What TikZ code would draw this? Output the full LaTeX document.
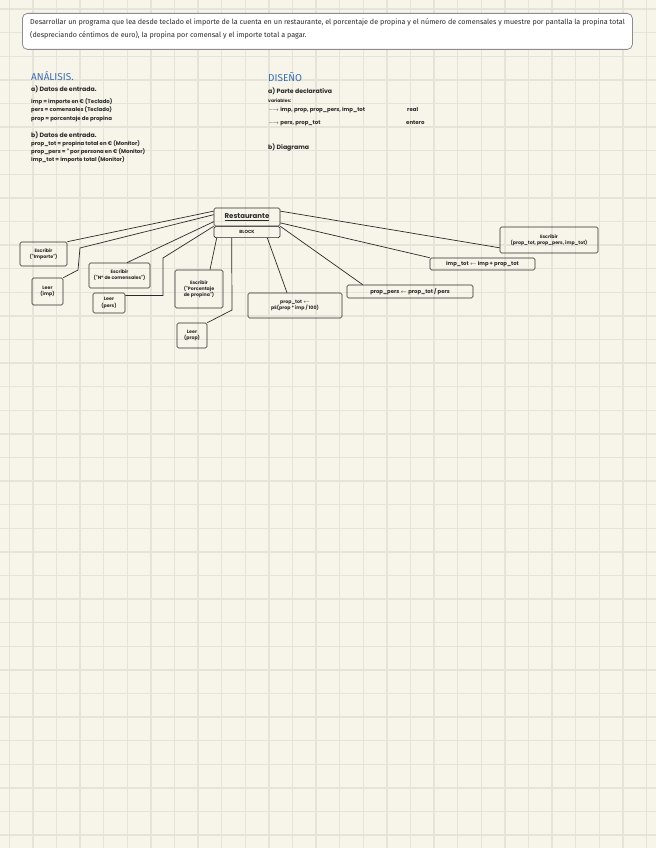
\documentclass[tikz,border=0pt]{standalone}
\usepackage{fontspec}
\setmainfont{Fira Sans}
\newfontfamily\hand{Poppins}
\usepackage{xcolor}
\usetikzlibrary{positioning}
\definecolor{paper}{HTML}{F7F5EA}
\definecolor{gridc}{HTML}{E6E3D8}
\definecolor{headblue}{HTML}{3D6DB5}
\definecolor{ink}{HTML}{2A2A2A}

\begin{document}
\begin{tikzpicture}[x=1pt,y=-1pt,
  every node/.style={font=\hand\bfseries\fontsize{4.7}{6.2}\selectfont,text=ink},
  gridline/.style={draw=gridc,line width=1.5pt},
  box/.style={draw=ink,line width=0.6pt,rounded corners=1.5pt,align=center,inner sep=1pt},
  link/.style={draw=ink,line width=0.7pt},
  txt/.style={anchor=west,inner sep=0pt,font=\hand\bfseries\fontsize{5.4}{7}\selectfont},
  sub/.style={anchor=west,inner sep=0pt,font=\hand\bfseries\fontsize{6.2}{9}\selectfont},
  head/.style={anchor=west,inner sep=0pt,text=headblue,font=\fontsize{10}{12}\selectfont}
]
\useasboundingbox (0,0) rectangle (656,848);
\fill[paper] (0,0) rectangle (656,848);
\foreach \i in {0,...,27} \draw[gridline] (9.3+23.6*\i,0) -- ++(0,848);
\foreach \j in {0,...,35} \draw[gridline] (0,9.1+23.6*\j) -- ++(656,0);

% enunciado
\node[draw=black!45,fill=white,rounded corners=5pt,line width=0.8pt,
  minimum width=610pt,minimum height=36pt,anchor=north west] (enun) at (22,13) {};
\node[anchor=north west,inner sep=0pt,align=left,font=\fontsize{7.2}{13}\selectfont] (enuntxt) at (30,19)
  {Desarrollar un programa que lea desde teclado el importe de la cuenta en un restaurante, el porcentaje de propina y el número de comensales y muestre por pantalla la propina total\\
   (despreciando céntimos de euro), la propina por comensal y el importe total a pagar.};

% analisis
\node[head] (ana) at (31,76) {ANÁLISIS.};
\node[sub] (anaA) at (31,89) {a) Datos de entrada.};
\node[txt] (ent1) at (31,102) {imp = importe en € (Teclado)};
\node[txt] (ent2) at (31,110) {pers = comensales (Teclado)};
\node[txt] (ent3) at (31,119) {prop = porcentaje de propina};
\node[sub] (anaB) at (31,135) {b) Datos de entrada.};
\node[txt] (sal1) at (31,144) {prop\_tot = propina total en € (Monitor)};
\node[txt] (sal2) at (31,152) {prop\_pers = " por persona en € (Monitor)};
\node[txt] (sal3) at (31,160) {imp\_tot = importe total (Monitor)};

% diseno
\node[head] (dis) at (268,77) {DISEÑO};
\node[sub] (disA) at (268,91) {a) Parte declarativa};
\node[txt,font=\hand\bfseries\fontsize{4.5}{6}\selectfont] (vars) at (268,101) {variables:};
\node[txt] (var1) at (268,110) {$\longrightarrow$ imp, prop, prop\_pers, imp\_tot};
\node[txt] (tipo1) at (407,110) {real};
\node[txt] (var2) at (268,123) {$\longrightarrow$ pers, prop\_tot};
\node[txt] (tipo2) at (406,123) {entero};
\node[sub] (disB) at (268,148) {b) Diagrama};

% diagrama
\node[box,minimum width=66pt,minimum height=18pt,font=\hand\bfseries\fontsize{7}{9}\selectfont] (root) at (247,217) {\underline{Restaurante}};
\node[box,minimum width=66pt,minimum height=11pt,font=\hand\bfseries\fontsize{4.5}{5}\selectfont,below=0pt of root] (block) {BLOCK};
\node[box,minimum width=47pt,minimum height=24pt] (escImp) at (43.5,254) {Escribir\\("Importe")};
\node[box,minimum width=31pt,minimum height=27pt] (leerImp) at (47.5,291.5) {Leer\\(imp)};
\node[box,minimum width=61pt,minimum height=25pt] (escPers) at (119.5,275.5) {Escribir\\("Nº de comensales")};
\node[box,minimum width=32pt,minimum height=20pt] (leerPers) at (109,303) {Leer\\(pers)};
\node[box,minimum width=48pt,minimum height=38pt] (escProp) at (199,289) {Escribir\\("Porcentaje\\de propina")};
\node[box,minimum width=30pt,minimum height=25pt] (leerProp) at (192,335.5) {Leer\\(prop)};
\node[box,minimum width=94pt,minimum height=25pt] (calcTot) at (295,305.5) {prop\_tot $\leftarrow$\\pE(prop * imp / 100)};
\node[box,minimum width=126pt,minimum height=13pt,font=\hand\bfseries\fontsize{5.3}{6.5}\selectfont] (calcPers) at (410,291.5) {prop\_pers $\leftarrow$ prop\_tot / pers};
\node[box,minimum width=105pt,minimum height=12pt,font=\hand\bfseries\fontsize{5.3}{6.5}\selectfont] (calcImp) at (482.5,264) {imp\_tot $\leftarrow$ imp + prop\_tot};
\node[box,minimum width=98pt,minimum height=26pt] (escRes) at (549,240) {Escribir\\(prop\_tot, prop\_pers, imp\_tot)};

\coordinate (kImp1) at (80,248);
\coordinate (kImp2) at (78,270);
\coordinate (kPers) at (163,258);
\coordinate (kProp) at (232,310);

\draw[link] (root.170) -- (escImp.north east);
\draw[link] (root.176) -- (kImp1) -- (kImp2) -- (leerImp.north east);
\draw[link] (root.188) -- (escPers.60);
\draw[link] (root.south west) -- (kPers) |- (leerPers.25);
\draw[link] ([xshift=3pt]block.south west) -- ([xshift=11pt]escProp.north);
\draw[link] ([xshift=18pt]block.south west) -- (kProp) -- (leerProp.north east);
\draw[link] ([xshift=-13pt]block.south east) -- ([xshift=-8pt]calcTot.north);
\draw[link] (block.north east) -- ([xshift=16pt]calcPers.north west);
\draw[link] (root.-10) -- (calcImp.north west);
\draw[link] (root.10) -- (escRes.189);
\end{tikzpicture}
\end{document}
